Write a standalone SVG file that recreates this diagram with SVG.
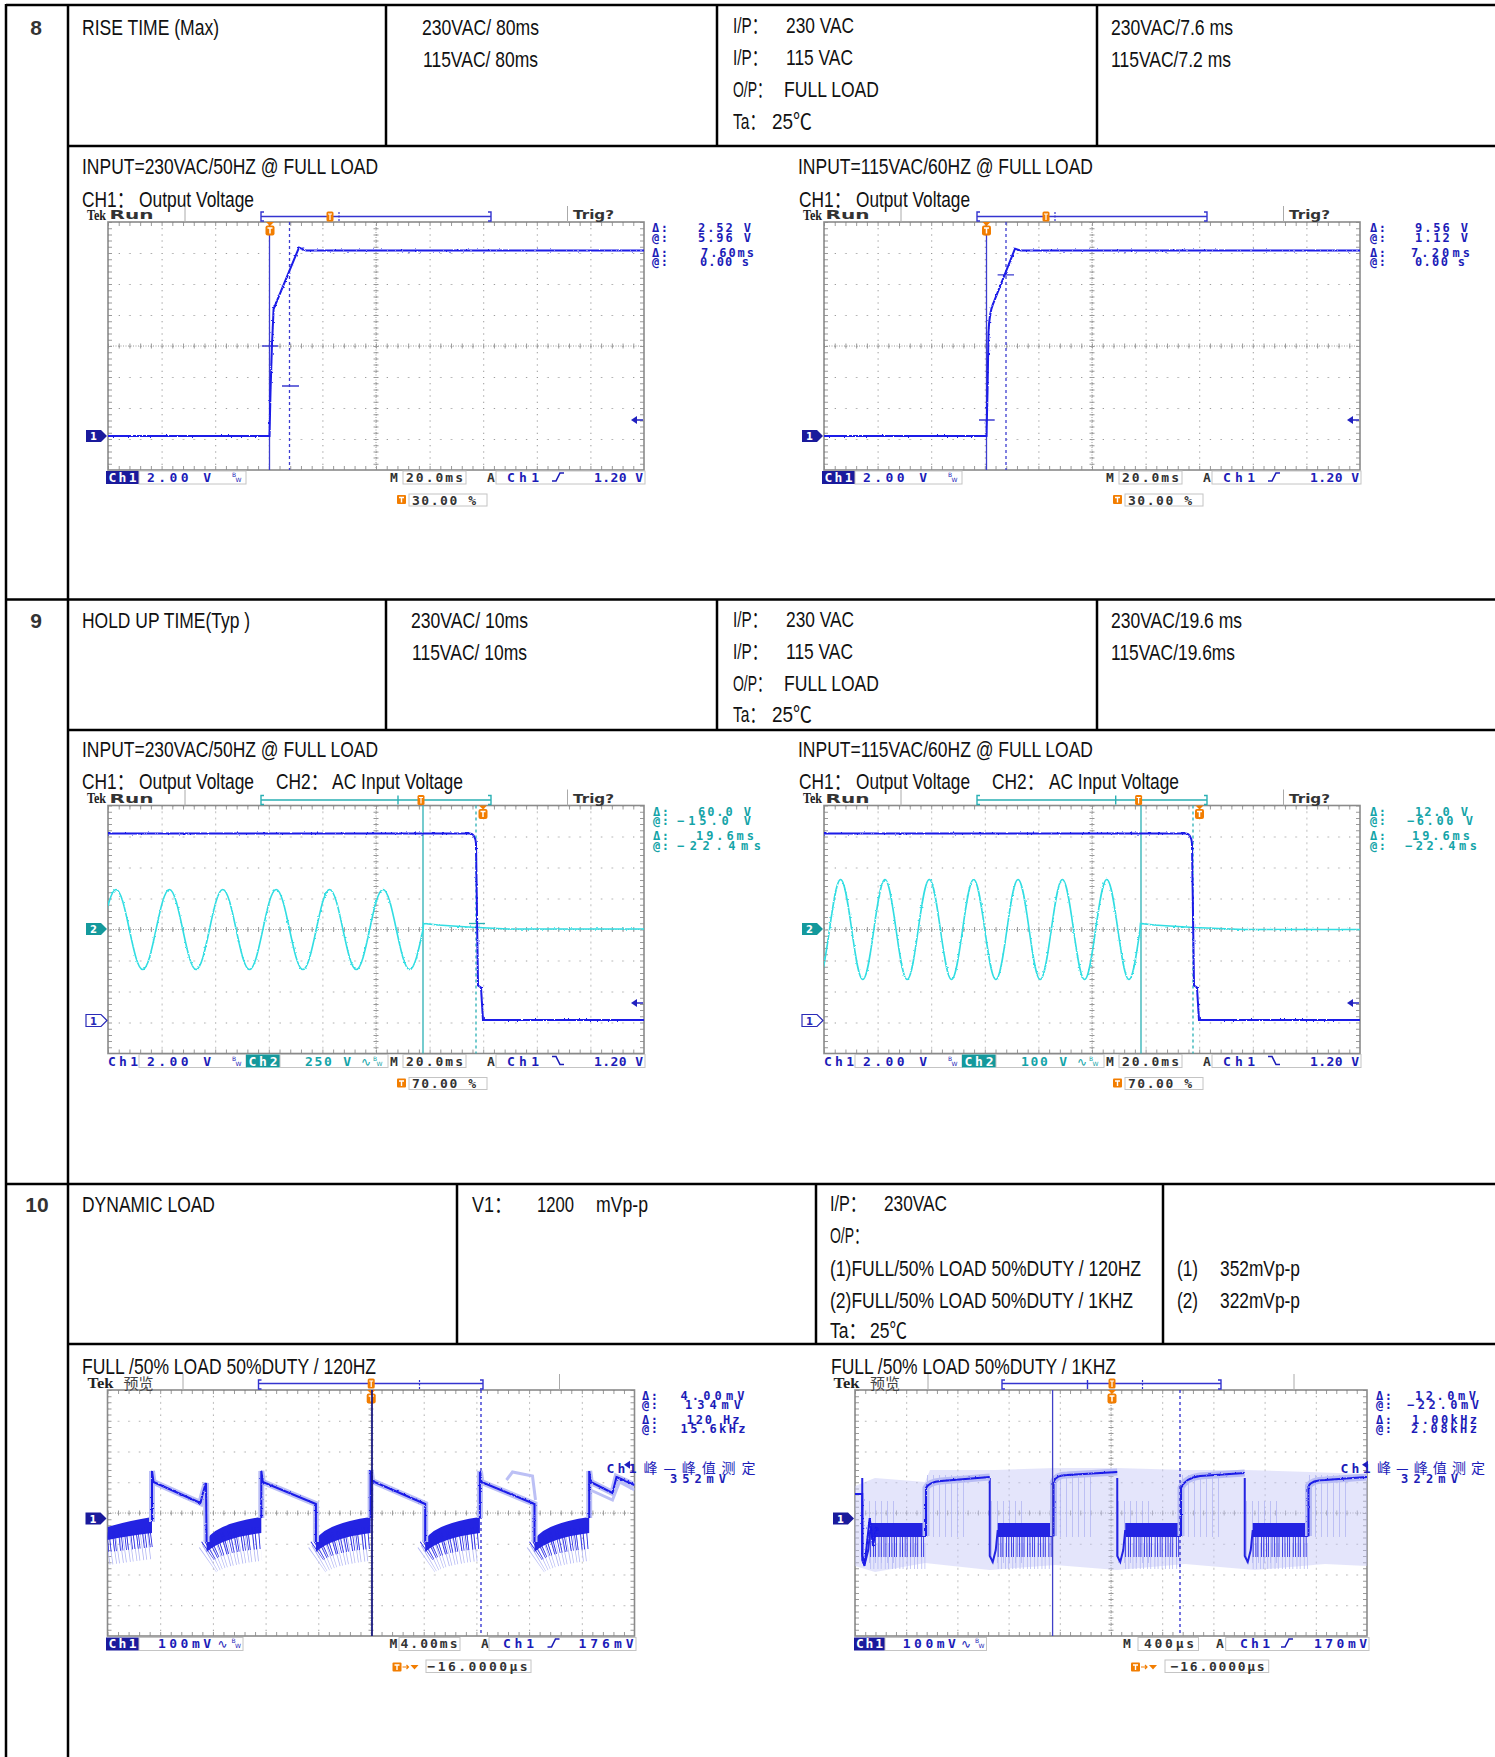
<svg xmlns="http://www.w3.org/2000/svg" width="1495" height="1757" viewBox="0 0 1495 1757">
<style>
.tx{font-family:"Liberation Sans Narrow","Liberation Sans","Noto Sans CJK SC",sans-serif;font-size:22px;fill:#111}
.nb{font-family:"Liberation Sans Narrow","Liberation Sans",sans-serif;font-size:21px;font-weight:bold;fill:#333}
.ln{stroke:#000;stroke-width:2.5;fill:none}
.lb{font-family:"DejaVu Sans Mono","Liberation Mono",monospace;font-weight:bold;font-size:13px}
.ms{font-family:"DejaVu Sans Mono","Liberation Mono",monospace;font-weight:bold;font-size:12px}
.cj{font-family:"Noto Sans CJK SC",sans-serif;font-size:14px}
.bl{fill:#1c1cb8}
.cy{fill:#14a4a8}
.dk{fill:#333}
.wh{fill:#fff}
.box{fill:none;stroke:#c4c4c4;stroke-width:1}
.tek{font-family:"Liberation Serif",serif;font-weight:bold;font-size:15px;fill:#222}
.run{font-family:"DejaVu Sans","Liberation Sans",sans-serif;font-weight:bold;font-size:13px;fill:#333}
.pv{font-family:"Noto Sans CJK SC",sans-serif;font-size:15px;fill:#444}
.sep{stroke:#aaa;stroke-width:1}
.tr{fill:none;stroke:#1a1ae8;stroke-width:2}
.tc{fill:none;stroke:#30dde2;stroke-width:1.6}
.cur{stroke:#3c3cd0;stroke-width:1.3;fill:none}
.curc{stroke:#2ab0b4;stroke-width:1.3;fill:none}
.br{fill:none;stroke:#3434d0;stroke-width:1.4}
.brc{fill:none;stroke:#2ab0b4;stroke-width:1.4}
</style>
<defs>
<pattern id="pA" width="53.6" height="31" patternUnits="userSpaceOnUse"><path d="M0,0h1v1h-1zM10.72,0h1v1h-1zM21.44,0h1v1h-1zM32.16,0h1v1h-1zM42.88,0h1v1h-1zM0,6.2h1v1h-1zM0,12.4h1v1h-1zM0,18.6h1v1h-1zM0,24.8h1v1h-1z" fill="#7c7c7c"/></pattern>
<pattern id="pB" width="52.7" height="30.75" patternUnits="userSpaceOnUse"><path d="M0,0h1v1h-1zM10.54,0h1v1h-1zM21.08,0h1v1h-1zM31.62,0h1v1h-1zM42.16,0h1v1h-1zM0,6.15h1v1h-1zM0,12.3h1v1h-1zM0,18.45h1v1h-1zM0,24.6h1v1h-1z" fill="#7c7c7c"/></pattern>
<pattern id="pC" width="51.2" height="30.75" patternUnits="userSpaceOnUse"><path d="M0,0h1v1h-1zM10.24,0h1v1h-1zM20.48,0h1v1h-1zM30.72,0h1v1h-1zM40.96,0h1v1h-1zM0,6.15h1v1h-1zM0,12.3h1v1h-1zM0,18.45h1v1h-1zM0,24.6h1v1h-1z" fill="#7c7c7c"/></pattern>
<g id="gratA">
<rect width="536" height="248" fill="url(#pA)"/>
<path d="M0,124H536M268,0V248" stroke="#9a9a9a" stroke-width="1" stroke-dasharray="1 1.5"/>
<path d="M0,124H536" stroke="#9a9a9a" stroke-width="5" stroke-dasharray="1 9.72"/>
<path d="M268,0V248" stroke="#9a9a9a" stroke-width="5" stroke-dasharray="1 5.2"/>
<path d="M0,2H536M0,246H536" stroke="#9a9a9a" stroke-width="4" stroke-dasharray="1 9.72"/>
<path d="M2,0V248M534,0V248" stroke="#9a9a9a" stroke-width="4" stroke-dasharray="1 5.2"/>
<rect width="536" height="248" fill="none" stroke="#8a8a8a" stroke-width="1.6"/>
</g>
<g id="gratB">
<rect width="527" height="246" fill="url(#pB)"/>
<path d="M0,123H527M263.5,0V246" stroke="#9a9a9a" stroke-width="1" stroke-dasharray="1 1.5"/>
<path d="M0,123H527" stroke="#9a9a9a" stroke-width="5" stroke-dasharray="1 9.54"/>
<path d="M263.5,0V246" stroke="#9a9a9a" stroke-width="5" stroke-dasharray="1 5.15"/>
<path d="M0,2H527M0,244H527" stroke="#9a9a9a" stroke-width="4" stroke-dasharray="1 9.54"/>
<path d="M2,0V246M525,0V246" stroke="#9a9a9a" stroke-width="4" stroke-dasharray="1 5.15"/>
<rect width="527" height="246" fill="none" stroke="#8a8a8a" stroke-width="1.6"/>
</g>
<g id="gratC">
<rect width="512" height="246" fill="url(#pC)"/>
<path d="M0,123H512M256,0V246" stroke="#9a9a9a" stroke-width="1" stroke-dasharray="1 1.5"/>
<path d="M0,123H512" stroke="#9a9a9a" stroke-width="5" stroke-dasharray="1 9.24"/>
<path d="M256,0V246" stroke="#9a9a9a" stroke-width="5" stroke-dasharray="1 5.15"/>
<path d="M0,2H512M0,244H512" stroke="#9a9a9a" stroke-width="4" stroke-dasharray="1 9.24"/>
<path d="M2,0V246M510,0V246" stroke="#9a9a9a" stroke-width="4" stroke-dasharray="1 5.15"/>
<rect width="512" height="246" fill="none" stroke="#8a8a8a" stroke-width="1.6"/>
</g>
<g id="m1"><path d="M-21,-6H-6L0,0L-6,6H-21Z" fill="#1a1a9c"/><text x="-13.5" y="4" text-anchor="middle" font-family="DejaVu Sans" font-weight="bold" font-size="10" fill="#fff">1</text></g>
<g id="m1o"><path d="M-21,-6H-6L0,0L-6,6H-21Z" fill="#fff" stroke="#2a2ab8" stroke-width="1.2"/><text x="-13.5" y="4" text-anchor="middle" font-family="DejaVu Sans" font-weight="bold" font-size="10" fill="#2a2ab8">1</text></g>
<g id="m2"><path d="M-21,-6H-6L0,0L-6,6H-21Z" fill="#14999c"/><text x="-13.5" y="4" text-anchor="middle" font-family="DejaVu Sans" font-weight="bold" font-size="10" fill="#fff">2</text></g>
<g id="tT"><path d="M-4,-1h8l-4,4z" fill="#f27d00"/><rect x="-4.5" y="2.5" width="9" height="10" rx="2" fill="#f27d00"/><path d="M-2.5,5h5M0,5v5.5" stroke="#fff" stroke-width="1.5"/></g>
<g id="bT"><rect x="-3.5" y="-5" width="7" height="10" rx="1.5" fill="#f27d00"/><path d="M-2,-2.5h4M0,-2.5v6" stroke="#fff" stroke-width="1.2"/></g>
<g id="oT"><rect width="9" height="9" rx="1" fill="#f27d00"/><path d="M2,2.5h5M4.5,2.5v5" stroke="#fff" stroke-width="1.4"/></g>
<g id="oTa"><rect width="9" height="9" rx="1" fill="#f27d00"/><path d="M2,2.5h5M4.5,2.5v5" stroke="#fff" stroke-width="1.4"/><path d="M10,4.5h6M14,2.5l2,2l-2,2" stroke="#f27d00" stroke-width="1.2" fill="none"/><path d="M18,2.5h8l-4,4.5z" fill="#f27d00"/></g>
<filter id="nz" filterUnits="userSpaceOnUse" x="-30" y="-30" width="700" height="320"><feTurbulence type="fractalNoise" baseFrequency="0.45 0.6" numOctaves="1" seed="4" result="t"/><feDisplacementMap in="SourceGraphic" in2="t" scale="2.6" xChannelSelector="R" yChannelSelector="G"/></filter>
<clipPath id="cA"><rect width="536" height="248"/></clipPath>
<clipPath id="cB"><rect width="527" height="246"/></clipPath>
<clipPath id="cC"><rect width="512" height="246"/></clipPath>
<g id="lab8">
<rect x="-2" y="249" width="33" height="13" fill="#1a1a9c"/>
<text class="lb wh" x="0.5" y="260" textLength="28">Ch1</text>
<rect class="box" x="31" y="249" width="107" height="13"/>
<text class="lb bl" x="39" y="260" textLength="64">2.00 V</text>
<text x="124" y="255" font-size="6" fill="#1c1cb8" font-family="DejaVu Sans">B</text><text x="127.5" y="260" font-size="6" fill="#1c1cb8" font-family="DejaVu Sans">W</text>
<text class="lb dk" x="282" y="260">M</text>
<rect class="box" x="295" y="249" width="63" height="13"/>
<text class="lb dk" x="298" y="260" textLength="57">20.0ms</text>
<text class="lb dk" x="379" y="260">A</text>
<rect class="box" x="388" y="249" width="149" height="13"/>
<text class="lb bl" x="399" y="260" textLength="32">Ch1</text>
<path d="M444,259h4l4,-8h4" stroke="#1c1cb8" stroke-width="1.6" fill="none"/>
<text class="lb bl" x="486" y="260" textLength="49">1.20 V</text>
<use href="#oT" x="289" y="273"/>
<rect class="box" x="301" y="272" width="78" height="12"/>
<text class="lb dk" x="304" y="282.5" textLength="64">30.00 %</text>
</g>
<g id="lab9">
<text class="lb bl" x="0" y="260" textLength="30">Ch1</text>
<rect class="box" x="31" y="249" width="107" height="13"/>
<text class="lb bl" x="39" y="260" textLength="64">2.00 V</text>
<text x="124" y="255" font-size="6" fill="#1c1cb8" font-family="DejaVu Sans">B</text><text x="127.5" y="260" font-size="6" fill="#1c1cb8" font-family="DejaVu Sans">W</text>
<rect x="138" y="249" width="34" height="13" fill="#14999c"/>
<text class="lb wh" x="140.5" y="260" textLength="29">Ch2</text>
<rect class="box" x="172" y="249" width="108" height="13"/>
<text x="253" y="260" font-size="12" fill="#14a4a8" font-family="DejaVu Sans">∿</text>
<text x="265" y="255" font-size="6" fill="#14a4a8" font-family="DejaVu Sans">B</text><text x="268.5" y="260" font-size="6" fill="#14a4a8" font-family="DejaVu Sans">W</text>
<text class="lb dk" x="282" y="260">M</text>
<rect class="box" x="295" y="249" width="63" height="13"/>
<text class="lb dk" x="298" y="260" textLength="57">20.0ms</text>
<text class="lb dk" x="379" y="260">A</text>
<rect class="box" x="388" y="249" width="149" height="13"/>
<text class="lb bl" x="399" y="260" textLength="32">Ch1</text>
<path d="M444,251h4l4,8h4" stroke="#1c1cb8" stroke-width="1.6" fill="none"/>
<text class="lb bl" x="486" y="260" textLength="49">1.20 V</text>
<use href="#oT" x="289" y="273"/>
<rect class="box" x="301" y="272" width="78" height="12"/>
<text class="lb dk" x="304" y="282.5" textLength="64">70.00 %</text>
</g>
<g id="barA">
<text class="tek" x="-21" y="-2.5" textLength="19" lengthAdjust="spacingAndGlyphs">Tek</text>
<text class="run" x="1.5" y="-3" textLength="44" lengthAdjust="spacingAndGlyphs">Run</text>
<path class="sep" d="M77,-16V0M459.5,-16V0"/>
<text class="run" x="465" y="-3" textLength="41" lengthAdjust="spacingAndGlyphs">Trig?</text>
</g>
<g id="bandL">
<path d="M1,170 Q15,160 54,156" stroke="#b4b8f4" stroke-width="30" stroke-dasharray="0.8 2.2 0.8 3.1" fill="none"/>
<path d="M0,150 Q8,134 54.7,127 V143 Q15,148 0,162 Z" fill="#2323e2"/>
<path d="M1,161 Q15,151 54,148" stroke="#2323e2" stroke-width="22" stroke-dasharray="0.8 1.6 0.8 2.6 0.8 1.1 0.8 3.4" fill="none"/>
</g>
<g id="bandR">
<path d="M8,166 H63" stroke="#b4b8f4" stroke-width="26" stroke-dasharray="0.8 2.4 0.8 3.3" fill="none"/>
<path d="M8,157 H63" stroke="#2323e2" stroke-width="20" stroke-dasharray="0.8 1.9 0.8 1.2 0.8 2.8 0.8 1.5" fill="none"/>
<path d="M8,133 H63.75 V147 H8 Z" fill="#2323e2"/>
<path d="M0,88 V166 L3,172 L6,160 L8,140" stroke="#2323e2" stroke-width="2" fill="none"/>
</g>
</defs>

<rect width="1495" height="1757" fill="#fff"/>

<g id="table">
<path class="ln" d="M6,5H1495M68,146H1495M6,599.5H1495M68,730H1495M6,1184H1495M68,1344H1495"/>
<path class="ln" d="M6,4V1757M68,4V1757M386,5V146M717,5V146M1097,5V146M386,600V730M717,600V730M1097,600V730M457,1184V1344M816,1184V1344M1163,1184V1344"/>
</g>

<g id="row8-text">
<text class="nb" x="36" y="35" text-anchor="middle">8</text>
<text class="tx" x="82" y="35" textLength="137" lengthAdjust="spacingAndGlyphs">RISE TIME (Max)</text>
<text class="tx" x="422" y="35" textLength="117" lengthAdjust="spacingAndGlyphs">230VAC/ 80ms</text>
<text class="tx" x="423" y="67" textLength="115" lengthAdjust="spacingAndGlyphs">115VAC/ 80ms</text>
<text class="tx" x="733" y="33" textLength="34" lengthAdjust="spacingAndGlyphs">I/P：</text>
<text class="tx" x="786" y="33" textLength="68" lengthAdjust="spacingAndGlyphs">230 VAC</text>
<text class="tx" x="733" y="65" textLength="34" lengthAdjust="spacingAndGlyphs">I/P：</text>
<text class="tx" x="786" y="65" textLength="67" lengthAdjust="spacingAndGlyphs">115 VAC</text>
<text class="tx" x="733" y="97" textLength="38" lengthAdjust="spacingAndGlyphs">O/P：</text>
<text class="tx" x="784" y="97" textLength="95" lengthAdjust="spacingAndGlyphs">FULL LOAD</text>
<text class="tx" x="733" y="129" textLength="32" lengthAdjust="spacingAndGlyphs">Ta：</text>
<text class="tx" x="772" y="129" textLength="40" lengthAdjust="spacingAndGlyphs">25℃</text>
<text class="tx" x="1111" y="35" textLength="122" lengthAdjust="spacingAndGlyphs">230VAC/7.6 ms</text>
<text class="tx" x="1111" y="67" textLength="120" lengthAdjust="spacingAndGlyphs">115VAC/7.2 ms</text>
<text class="tx" x="82" y="174" textLength="296" lengthAdjust="spacingAndGlyphs">INPUT=230VAC/50HZ @ FULL LOAD</text>
<text class="tx" x="82" y="207" textLength="52" lengthAdjust="spacingAndGlyphs">CH1：</text>
<text class="tx" x="139" y="207" textLength="115" lengthAdjust="spacingAndGlyphs">Output Voltage</text>
<text class="tx" x="798" y="174" textLength="295" lengthAdjust="spacingAndGlyphs">INPUT=115VAC/60HZ @ FULL LOAD</text>
<text class="tx" x="799" y="207" textLength="52" lengthAdjust="spacingAndGlyphs">CH1：</text>
<text class="tx" x="856" y="207" textLength="114" lengthAdjust="spacingAndGlyphs">Output Voltage</text>
</g>

<g id="scope-8a" transform="translate(108,222)">
<use href="#gratA"/>
<use href="#barA"/>
<path class="br" d="M156,-10H153V-1H156M153,-5.5H383M380,-10H383V-1H380"/>
<use href="#bT" x="222" y="-5.5"/>
<path d="M231,-10V-1" stroke="#3434d0" stroke-width="1.2" stroke-dasharray="2 1.5"/>
<path class="cur" d="M161.5,0V248"/>
<path class="cur" d="M181.5,0V248" stroke-dasharray="3 3"/>
<path class="cur" d="M154,124H170M174,164H191"/>
<use href="#tT" x="162" y="1"/>
<g clip-path="url(#cA)"><path class="tr" filter="url(#nz)" d="M0,214H161.5L162.5,170L164,122L165.6,87L191,25.6L198,28.6H536"/></g>
<use href="#m1" x="-1" y="214"/>
<path d="M523,198l6,-4v8z" fill="#2020c0"/><path d="M529,198h6" stroke="#2020c0" stroke-width="1.5"/>
<text class="ms bl" x="544" y="10" textLength="16">Δ:</text><text class="ms bl" x="590" y="10" textLength="53">2.52 V</text>
<text class="ms bl" x="544" y="19.5" textLength="16">@:</text><text class="ms bl" x="590" y="19.5" textLength="53">5.96 V</text>
<text class="ms bl" x="544" y="34.5" textLength="16">Δ:</text><text class="ms bl" x="593" y="34.5" textLength="53">7.60ms</text>
<text class="ms bl" x="544" y="44" textLength="16">@:</text><text class="ms bl" x="592" y="44" textLength="49">0.00 s</text>
<use href="#lab8"/>
</g>

<g id="scope-8b" transform="translate(824,222)">
<use href="#gratA"/>
<use href="#barA"/>
<path class="br" d="M156,-10H153V-1H156M153,-5.5H383M380,-10H383V-1H380"/>
<use href="#bT" x="222" y="-5.5"/>
<path d="M231,-10V-1" stroke="#3434d0" stroke-width="1.2" stroke-dasharray="2 1.5"/>
<path class="cur" d="M162.5,0V248"/>
<path class="cur" d="M182,0V248" stroke-dasharray="3 3"/>
<path class="cur" d="M173.6,52.8H190M155,198H170.7"/>
<use href="#tT" x="162.5" y="1"/>
<g clip-path="url(#cA)"><path class="tr" filter="url(#nz)" d="M0,214H162.5L163.5,170L164.5,110Q165.5,90 169,82L191,26.7L197,28.6H536"/></g>
<use href="#m1" x="-1" y="214"/>
<path d="M523,198l6,-4v8z" fill="#2020c0"/><path d="M529,198h6" stroke="#2020c0" stroke-width="1.5"/>
<text class="ms bl" x="546" y="10" textLength="16">Δ:</text><text class="ms bl" x="591" y="10" textLength="53">9.56 V</text>
<text class="ms bl" x="546" y="19.5" textLength="16">@:</text><text class="ms bl" x="591" y="19.5" textLength="53">1.12 V</text>
<text class="ms bl" x="546" y="34.5" textLength="16">Δ:</text><text class="ms bl" x="587" y="34.5" textLength="59">7.20ms</text>
<text class="ms bl" x="546" y="44" textLength="16">@:</text><text class="ms bl" x="591" y="44" textLength="50">0.00 s</text>
<use href="#lab8"/>
</g>

<g id="row9-text">
<text class="nb" x="36" y="628" text-anchor="middle">9</text>
<text class="tx" x="82" y="628" textLength="168" lengthAdjust="spacingAndGlyphs">HOLD UP TIME(Typ )</text>
<text class="tx" x="411" y="628" textLength="117" lengthAdjust="spacingAndGlyphs">230VAC/ 10ms</text>
<text class="tx" x="412" y="660" textLength="115" lengthAdjust="spacingAndGlyphs">115VAC/ 10ms</text>
<text class="tx" x="733" y="627" textLength="34" lengthAdjust="spacingAndGlyphs">I/P：</text>
<text class="tx" x="786" y="627" textLength="68" lengthAdjust="spacingAndGlyphs">230 VAC</text>
<text class="tx" x="733" y="659" textLength="34" lengthAdjust="spacingAndGlyphs">I/P：</text>
<text class="tx" x="786" y="659" textLength="67" lengthAdjust="spacingAndGlyphs">115 VAC</text>
<text class="tx" x="733" y="691" textLength="38" lengthAdjust="spacingAndGlyphs">O/P：</text>
<text class="tx" x="784" y="691" textLength="95" lengthAdjust="spacingAndGlyphs">FULL LOAD</text>
<text class="tx" x="733" y="722" textLength="32" lengthAdjust="spacingAndGlyphs">Ta：</text>
<text class="tx" x="772" y="722" textLength="40" lengthAdjust="spacingAndGlyphs">25℃</text>
<text class="tx" x="1111" y="628" textLength="131" lengthAdjust="spacingAndGlyphs">230VAC/19.6 ms</text>
<text class="tx" x="1111" y="660" textLength="124" lengthAdjust="spacingAndGlyphs">115VAC/19.6ms</text>
<text class="tx" x="82" y="757" textLength="296" lengthAdjust="spacingAndGlyphs">INPUT=230VAC/50HZ @ FULL LOAD</text>
<text class="tx" x="82" y="789" textLength="52" lengthAdjust="spacingAndGlyphs">CH1：</text>
<text class="tx" x="139" y="789" textLength="115" lengthAdjust="spacingAndGlyphs">Output Voltage</text>
<text class="tx" x="276" y="789" textLength="52" lengthAdjust="spacingAndGlyphs">CH2：</text>
<text class="tx" x="332" y="789" textLength="131" lengthAdjust="spacingAndGlyphs">AC Input Voltage</text>
<text class="tx" x="798" y="757" textLength="295" lengthAdjust="spacingAndGlyphs">INPUT=115VAC/60HZ @ FULL LOAD</text>
<text class="tx" x="799" y="789" textLength="52" lengthAdjust="spacingAndGlyphs">CH1：</text>
<text class="tx" x="856" y="789" textLength="114" lengthAdjust="spacingAndGlyphs">Output Voltage</text>
<text class="tx" x="992" y="789" textLength="52" lengthAdjust="spacingAndGlyphs">CH2：</text>
<text class="tx" x="1049" y="789" textLength="130" lengthAdjust="spacingAndGlyphs">AC Input Voltage</text>
</g>

<g id="scope-9a" transform="translate(108,805.5)">
<use href="#gratA"/>
<use href="#barA"/>
<path class="brc" d="M156,-10H153V-1H156M153,-5.5H383M380,-10H383V-1H380M290,-10V-1"/>
<use href="#bT" x="313" y="-5.5"/>
<path class="curc" d="M315,0V248"/>
<path class="curc" d="M368,0V248" stroke-dasharray="3 3"/>
<path class="curc" d="M361,118H377"/>
<use href="#tT" x="375" y="1"/>
<g clip-path="url(#cA)">
<path class="tc" filter="url(#nz)" d="M-5.35,124c4.354,-20.49 8.519,-40 13.35,-40c4.831,0 8.996,19.51 13.35,40c4.354,20.49 8.519,40 13.35,40c4.831,0 8.996,-19.51 13.35,-40c4.354,-20.49 8.519,-40 13.35,-40c4.831,0 8.996,19.51 13.35,40c4.354,20.49 8.519,40 13.35,40c4.831,0 8.996,-19.51 13.35,-40c4.354,-20.49 8.519,-40 13.35,-40c4.831,0 8.996,19.51 13.35,40c4.354,20.49 8.519,40 13.35,40c4.831,0 8.996,-19.51 13.35,-40c4.354,-20.49 8.519,-40 13.35,-40c4.831,0 8.996,19.51 13.35,40c4.354,20.49 8.519,40 13.35,40c4.831,0 8.996,-19.51 13.35,-40c4.354,-20.49 8.519,-40 13.35,-40c4.831,0 8.996,19.51 13.35,40c4.354,20.49 8.519,40 13.35,40c4.831,0 8.996,-19.51 13.35,-40c4.354,-20.49 8.519,-40 13.35,-40c4.831,0 8.996,19.51 13.35,40c4.354,20.49 8.519,40 13.35,40c4.831,0 8.996,-19.51 13.35,-40L315.5,118L330,119.5L360,121.5L400,123.5H536"/>
<path class="tr" filter="url(#nz)" d="M0,28H362Q367,28 368,38L370,180L373,182L375,214.5H536"/>
</g>
<use href="#m2" x="-1" y="123.5"/>
<use href="#m1o" x="-1" y="215"/>
<path d="M523,197.5l6,-4v8z" fill="#2020c0"/><path d="M529,197.5h6" stroke="#2020c0" stroke-width="1.5"/>
<text class="ms cy" x="545" y="10" textLength="16">Δ:</text><text class="ms cy" x="590" y="10" textLength="53">60.0 V</text>
<text class="ms cy" x="545" y="19.5" textLength="16">@:</text><text class="ms cy" x="569" y="19.5" textLength="74">−15.0 V</text>
<text class="ms cy" x="545" y="34.5" textLength="16">Δ:</text><text class="ms cy" x="588" y="34.5" textLength="58">19.6ms</text>
<text class="ms cy" x="545" y="44" textLength="16">@:</text><text class="ms cy" x="569" y="44" textLength="84">−22.4ms</text>
<use href="#lab9"/>
<text class="lb cy" x="197" y="260" textLength="46">250 V</text>
</g>

<g id="scope-9b" transform="translate(824,805.5)">
<use href="#gratA"/>
<use href="#barA"/>
<path class="brc" d="M156,-10H153V-1H156M153,-5.5H383M380,-10H383V-1H380M291.7,-10V-1"/>
<use href="#bT" x="314.6" y="-5.5"/>
<path class="curc" d="M317,0V248"/>
<path class="curc" d="M369,0V248" stroke-dasharray="3 3"/>
<use href="#tT" x="375.5" y="1"/>
<g clip-path="url(#cA)">
<path class="tc" filter="url(#nz)" d="M-38.85,124c3.617,-25.6 7.077,-50 11.09,-50c4.013,0 7.473,24.4 11.09,50c3.617,25.6 7.077,50 11.09,50c4.013,0 7.473,-24.4 11.09,-50c3.617,-25.6 7.077,-50 11.09,-50c4.013,0 7.473,24.4 11.09,50c3.617,25.6 7.077,50 11.09,50c4.013,0 7.473,-24.4 11.09,-50c3.617,-25.6 7.077,-50 11.09,-50c4.013,0 7.473,24.4 11.09,50c3.617,25.6 7.077,50 11.09,50c4.013,0 7.473,-24.4 11.09,-50c3.617,-25.6 7.077,-50 11.09,-50c4.013,0 7.473,24.4 11.09,50c3.617,25.6 7.077,50 11.09,50c4.013,0 7.473,-24.4 11.09,-50c3.617,-25.6 7.077,-50 11.09,-50c4.013,0 7.473,24.4 11.09,50c3.617,25.6 7.077,50 11.09,50c4.013,0 7.473,-24.4 11.09,-50c3.617,-25.6 7.077,-50 11.09,-50c4.013,0 7.473,24.4 11.09,50c3.617,25.6 7.077,50 11.09,50c4.013,0 7.473,-24.4 11.09,-50c3.617,-25.6 7.077,-50 11.09,-50c4.013,0 7.473,24.4 11.09,50c3.617,25.6 7.077,50 11.09,50c4.013,0 7.473,-24.4 11.09,-50c3.617,-25.6 7.077,-50 11.09,-50c4.013,0 7.473,24.4 11.09,50c3.617,25.6 7.077,50 11.09,50c4.013,0 7.473,-24.4 11.09,-50L316.5,118L330,119.5L370,122L420,124H536"/>
<path class="tr" filter="url(#nz)" d="M0,28H362Q367,28 368,38L370,180L373,182L375,214.5H536"/>
</g>
<use href="#m2" x="-1" y="123.5"/>
<use href="#m1o" x="-1" y="215"/>
<path d="M523,197.5l6,-4v8z" fill="#2020c0"/><path d="M529,197.5h6" stroke="#2020c0" stroke-width="1.5"/>
<text class="ms cy" x="546" y="10" textLength="16">Δ:</text><text class="ms cy" x="591" y="10" textLength="53">12.0 V</text>
<text class="ms cy" x="546" y="19.5" textLength="16">@:</text><text class="ms cy" x="583" y="19.5" textLength="66">−6.00 V</text>
<text class="ms cy" x="546" y="34.5" textLength="16">Δ:</text><text class="ms cy" x="588" y="34.5" textLength="58">19.6ms</text>
<text class="ms cy" x="546" y="44" textLength="16">@:</text><text class="ms cy" x="581" y="44" textLength="72">−22.4ms</text>
<use href="#lab9"/>
<text class="lb cy" x="197" y="260" textLength="46">100 V</text>
</g>

<g id="row10-text">
<text class="nb" x="37" y="1212" text-anchor="middle">10</text>
<text class="tx" x="82" y="1212" textLength="133" lengthAdjust="spacingAndGlyphs">DYNAMIC LOAD</text>
<text class="tx" x="472" y="1212" textLength="40" lengthAdjust="spacingAndGlyphs">V1：</text>
<text class="tx" x="537" y="1212" textLength="37" lengthAdjust="spacingAndGlyphs">1200</text>
<text class="tx" x="596" y="1212" textLength="52" lengthAdjust="spacingAndGlyphs">mVp-p</text>
<text class="tx" x="830" y="1211" textLength="36" lengthAdjust="spacingAndGlyphs">I/P：</text>
<text class="tx" x="884" y="1211" textLength="63" lengthAdjust="spacingAndGlyphs">230VAC</text>
<text class="tx" x="830" y="1243" textLength="38" lengthAdjust="spacingAndGlyphs">O/P：</text>
<text class="tx" x="830" y="1276" textLength="311" lengthAdjust="spacingAndGlyphs">(1)FULL/50% LOAD 50%DUTY / 120HZ</text>
<text class="tx" x="830" y="1308" textLength="303" lengthAdjust="spacingAndGlyphs">(2)FULL/50% LOAD 50%DUTY / 1KHZ</text>
<text class="tx" x="830" y="1338" textLength="36" lengthAdjust="spacingAndGlyphs">Ta：</text>
<text class="tx" x="870" y="1338" textLength="37" lengthAdjust="spacingAndGlyphs">25℃</text>
<text class="tx" x="1177" y="1276" textLength="21" lengthAdjust="spacingAndGlyphs">(1)</text>
<text class="tx" x="1220" y="1276" textLength="80" lengthAdjust="spacingAndGlyphs">352mVp-p</text>
<text class="tx" x="1177" y="1308" textLength="21" lengthAdjust="spacingAndGlyphs">(2)</text>
<text class="tx" x="1220" y="1308" textLength="80" lengthAdjust="spacingAndGlyphs">322mVp-p</text>
<text class="tx" x="82" y="1374" textLength="294" lengthAdjust="spacingAndGlyphs">FULL /50% LOAD 50%DUTY / 120HZ</text>
<text class="tx" x="831" y="1374" textLength="285" lengthAdjust="spacingAndGlyphs">FULL /50% LOAD 50%DUTY / 1KHZ</text>
</g>

<g id="scope-10a" transform="translate(107.5,1390)">
<use href="#gratB"/>
<text class="tek" x="-20" y="-2.5" textLength="26" lengthAdjust="spacingAndGlyphs">Tek</text>
<text class="pv" x="16" y="-1.5">预览</text>
<path class="sep" d="M75.5,-16V0M452,-16V0"/>
<path class="br" d="M154,-10H151V-1H154M151,-6.5H375.5M372.5,-10H375.5V-1H372.5"/>
<path d="M312,-10V-1" stroke="#3434d0" stroke-width="1.2" stroke-dasharray="2 1.5"/>
<use href="#bT" x="263.7" y="-6.5"/>
<path d="M373.5,0V246" stroke="#2a2ad0" stroke-width="1.3" stroke-dasharray="3 3"/>
<use href="#tT" x="263.7" y="1"/>
<g clip-path="url(#cB)">
<path d="M0,160 Q20,157 44,154" stroke="#b4b8f4" stroke-width="30" stroke-dasharray="0.8 2.2 0.8 3.1" fill="none"/>
<path d="M0,137 Q20,131 44.5,127 V143 Q20,146 0,150 Z" fill="#2323e2"/>
<path d="M0,152 Q20,150 44,147" stroke="#2323e2" stroke-width="20" stroke-dasharray="0.8 1.6 0.8 2.6 0.8 1.1 0.8 3.4" fill="none"/>
<use href="#bandL" x="99.1"/>
<use href="#bandL" x="208.4"/>
<use href="#bandL" x="317.7"/>
<use href="#bandL" x="427"/>
<g fill="none" stroke="#bcc0f5" stroke-width="6">
<path d="M44.5,132V81L46,92L93,113Q96,100 98.5,93L99.1,152"/>
<path d="M153.8,128V81L155.3,92L208.4,114V152"/>
<path d="M263.1,128V80L264.6,91L317.7,114V152"/>
<path d="M372.4,128V81L373.9,92L427,114V152"/>
<path d="M481.7,128V81L483.2,92L505,103L509,87L527,95"/>
</g>
<g fill="none" stroke="#bcc0f5" stroke-width="3">
<path d="M399,90L405,82L425,86L428,110"/>
<path d="M483,100L505,110L512,92L527,100"/>
</g>
<g class="tr" filter="url(#nz)" stroke-width="2.4">
<path d="M44.5,132V81L46,92L93,113Q96,100 98.5,93L99.1,152"/>
<path d="M153.8,128V81L155.3,92L208.4,114V152"/>
<path d="M263.1,128V80L264.6,91L317.7,114V152"/>
<path d="M372.4,128V81L373.9,92L427,114V152"/>
<path d="M481.7,128V81L483.2,92L505,103L509,87L527,95"/>
</g>
</g>
<path d="M264.5,0V246" stroke="#1a1a80" stroke-width="1.8"/>
<use href="#m1" x="-1" y="128.6"/>
<path d="M516.5,74.7l6,-4v8z" fill="#2020c0"/>
<text class="ms bl" x="534.5" y="9.5" textLength="16">Δ:</text><text class="ms bl" x="573" y="9.5" textLength="64">4.00mV</text>
<text class="ms bl" x="534.5" y="18.5" textLength="16">@:</text><text class="ms bl" x="577.5" y="18.5" textLength="56">134mV</text>
<text class="ms bl" x="534.5" y="33.5" textLength="16">Δ:</text><text class="ms bl" x="579" y="33.5" textLength="53">120 Hz</text>
<text class="ms bl" x="534.5" y="42.5" textLength="16">@:</text><text class="ms bl" x="573" y="42.5" textLength="65">15.6kHz</text>
<text class="lb bl" x="499" y="83" textLength="30">Ch1</text>
<text class="cj bl" x="536" y="83" textLength="112">峰—峰值测定</text>
<text class="ms bl" x="562.5" y="93" textLength="56">352mV</text>
<rect x="-1.5" y="247.5" width="33" height="13" fill="#1a1a9c"/>
<text class="lb wh" x="1" y="258" textLength="28">Ch1</text>
<rect class="box" x="31.5" y="247.5" width="104" height="13"/>
<text class="lb bl" x="50.5" y="258" textLength="53">100mV</text>
<text x="110" y="258" font-size="12" fill="#1c1cb8" font-family="DejaVu Sans">∿</text>
<text x="124" y="253" font-size="6" fill="#1c1cb8" font-family="DejaVu Sans">B</text><text x="127.5" y="258" font-size="6" fill="#1c1cb8" font-family="DejaVu Sans">W</text>
<text class="lb dk" x="282" y="258">M</text>
<rect class="box" x="291.5" y="247.5" width="61" height="13"/>
<text class="lb dk" x="293" y="258" textLength="57">4.00ms</text>
<text class="lb dk" x="373.5" y="258">A</text>
<rect class="box" x="381.5" y="247.5" width="147" height="13"/>
<text class="lb bl" x="395.5" y="258" textLength="31">Ch1</text>
<path d="M440,257h4l4,-8h4" stroke="#1c1cb8" stroke-width="1.6" fill="none"/>
<text class="lb bl" x="471" y="258" textLength="55">176mV</text>
<use href="#oTa" x="285" y="272.5"/>
<rect class="box" x="318.5" y="270" width="105" height="12.5"/>
<text class="lb dk" x="320" y="281" textLength="100">−16.0000µs</text>
</g>

<g id="scope-10b" transform="translate(855,1390)">
<use href="#gratC"/>
<text class="tek" x="-21.5" y="-2.5" textLength="26" lengthAdjust="spacingAndGlyphs">Tek</text>
<text class="pv" x="15" y="-1.5">预览</text>
<path class="sep" d="M73,-16V0M439,-16V0"/>
<path class="br" d="M150,-10H147V-1H150M147,-6.5H366M363,-10H366V-1H363M232.5,-10V-1"/>
<path d="M287.5,-10V-1" stroke="#3434d0" stroke-width="1.2" stroke-dasharray="2 1.5"/>
<use href="#bT" x="257" y="-6.5"/>
<g clip-path="url(#cC)">
<path d="M0,96L20,88L70,92L75,80L140,80L200,78L262,78L330,80L390,80L455,82L512,84V176L470,174L400,180L330,174L262,180L200,175L135,180L70,173L20,182L0,176Z" fill="#c4c6f6" opacity="0.45"/>
<g stroke="#b0b4f2" stroke-width="62" stroke-dasharray="1 5" fill="none" opacity="0.75">
<path d="M72,116H112M199,116H239M327,116H367M454,116H494"/>
<path d="M136,142H170M263,142H297M391,142H425M8,142H42"/>
</g>
<use href="#bandR" x="7.25"/>
<use href="#bandR" x="134.75"/>
<use href="#bandR" x="262.25"/>
<use href="#bandR" x="389.75"/>
<g fill="none" stroke="#b8bcf4" stroke-width="7">
<path d="M71,146V98Q74,92 86,91L134.75,87"/>
<path d="M198.5,146V92Q201,85 212,85L262.25,82"/>
<path d="M326,146V98Q330,88 345,86L389.75,83"/>
<path d="M453.5,146V96Q457,90 470,90L512,87"/>
</g>
<g class="tr" filter="url(#nz)" stroke-width="2.4">
<path d="M0,104H7.25V170L9.5,176L14.7,128L18,156L21,138L24,140"/>
<path d="M71,146V98Q74,92 86,91L134.75,87"/>
<path d="M198.5,146V92Q201,85 212,85L262.25,82"/>
<path d="M326,146V98Q330,88 345,86L389.75,83"/>
<path d="M453.5,146V96Q457,90 470,90L512,87"/>
</g>
</g>
<path d="M197.6,0V246" stroke="#4040c8" stroke-width="1.3"/>
<path d="M325,0V246" stroke="#2a2ad0" stroke-width="1.3" stroke-dasharray="3 3"/>
<use href="#tT" x="257" y="1"/>
<use href="#m1" x="-1" y="128.6"/>
<path d="M507,74.7l6,-4v8z" fill="#2020c0"/>
<text class="ms bl" x="521" y="9.5" textLength="16">Δ:</text><text class="ms bl" x="560" y="9.5" textLength="61">12.0mV</text>
<text class="ms bl" x="521" y="18.5" textLength="16">@:</text><text class="ms bl" x="552" y="18.5" textLength="72">−22.0mV</text>
<text class="ms bl" x="521" y="33.5" textLength="16">Δ:</text><text class="ms bl" x="557" y="33.5" textLength="65">1.00kHz</text>
<text class="ms bl" x="521" y="42.5" textLength="16">@:</text><text class="ms bl" x="556" y="42.5" textLength="66">2.08kHz</text>
<text class="lb bl" x="485.5" y="83" textLength="30">Ch1</text>
<text class="cj bl" x="522" y="83" textLength="108">峰—峰值测定</text>
<text class="ms bl" x="546" y="93" textLength="57">322mV</text>
<rect x="-1" y="247.5" width="31" height="13" fill="#1a1a9c"/>
<text class="lb wh" x="1" y="258" textLength="27">Ch1</text>
<rect class="box" x="30" y="247.5" width="101.5" height="13"/>
<text class="lb bl" x="47.8" y="258" textLength="53">100mV</text>
<text x="106" y="258" font-size="12" fill="#1c1cb8" font-family="DejaVu Sans">∿</text>
<text x="120" y="253" font-size="6" fill="#1c1cb8" font-family="DejaVu Sans">B</text><text x="123.5" y="258" font-size="6" fill="#1c1cb8" font-family="DejaVu Sans">W</text>
<text class="lb dk" x="268" y="258">M</text>
<rect class="box" x="283" y="247.5" width="60.5" height="13"/>
<text class="lb dk" x="289" y="258" textLength="50">400µs</text>
<text class="lb dk" x="361" y="258">A</text>
<rect class="box" x="370.7" y="247.5" width="143.3" height="13"/>
<text class="lb bl" x="385" y="258" textLength="30">Ch1</text>
<path d="M426,257h4l4,-8h4" stroke="#1c1cb8" stroke-width="1.6" fill="none"/>
<text class="lb bl" x="459" y="258" textLength="53">170mV</text>
<use href="#oTa" x="276" y="272.5"/>
<rect class="box" x="310" y="270" width="103.7" height="12.5"/>
<text class="lb dk" x="315.7" y="281" textLength="94">−16.0000µs</text>
</g>
</svg>
